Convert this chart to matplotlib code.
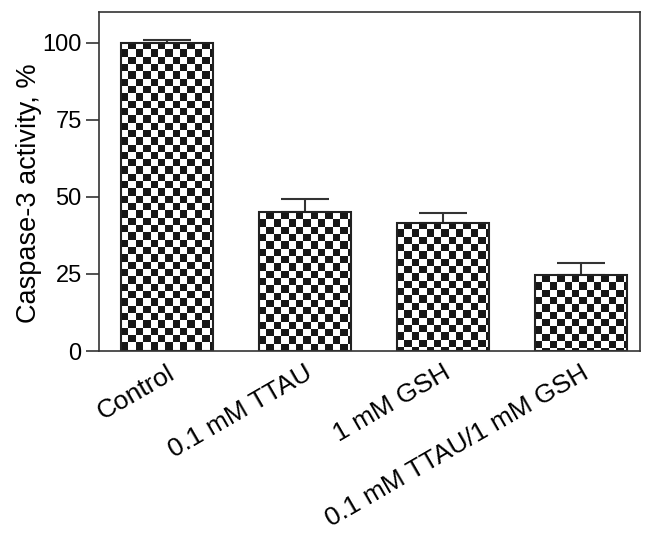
import numpy as np
import matplotlib.pyplot as plt

plt.rcParams['font.family'] = ['Liberation Sans', 'DejaVu Sans']

categories = ['Control', '0.1 mM TTAU', '1 mM GSH', '0.1 mM TTAU/1 mM GSH']
activity = [100.0, 45.0, 41.6, 24.6]
sem = [1.0, 4.3, 3.2, 4.0]
yticks = [0, 25, 50, 75, 100]

fig = plt.figure(figsize=(6.47, 5.34), dpi=100)
ax = fig.add_axes([99 / 647, 1 - 351 / 534, 541 / 647, 339 / 534])

x = np.arange(len(categories))
bw = 0.667
bars = ax.bar(x, activity, width=bw, facecolor='none', edgecolor='#222222',
              linewidth=1.5, zorder=2)
ax.errorbar(x, activity, yerr=[np.zeros(len(sem)), sem], fmt='none',
            ecolor='#333333', elinewidth=1.5, capsize=17, capthick=1.5, zorder=1)

# checkerboard fill, clipped to each bar
cell_x = 0.053
cell_y = 2.37
for b in bars:
    x0, w, h = b.get_x(), b.get_width(), b.get_height()
    nx = int(np.ceil(w / cell_x))
    ny = int(np.ceil(h / cell_y))
    board = (np.add.outer(np.arange(ny), np.arange(nx)) % 2).astype(float)
    im = ax.imshow(board, cmap='gray_r', vmin=0, vmax=1.1, interpolation='nearest',
                   extent=[x0, x0 + nx * cell_x, h - ny * cell_y, h],
                   aspect='auto', zorder=1.5)
    im.set_clip_path(b)
ax.set_xlim(-0.49, 3.43)
ax.set_ylim(0, 110)

ax.set_yticks(yticks)
ax.set_xticks(x)
ax.set_xticklabels(categories, rotation=30, ha='right', rotation_mode='anchor',
                   fontsize=19)
ax.tick_params(axis='y', labelsize=17, length=9.5, width=1.2, color='#333333', pad=3)
ax.tick_params(axis='x', length=0, pad=7)
ax.set_ylabel('Caspase-3 activity, %', fontsize=19.5)
ax.yaxis.set_label_coords(-0.105, 0.466)
for s in ax.spines.values():
    s.set_linewidth(1.2)
    s.set_color('#333333')

fig.savefig('out.png', dpi=100)
